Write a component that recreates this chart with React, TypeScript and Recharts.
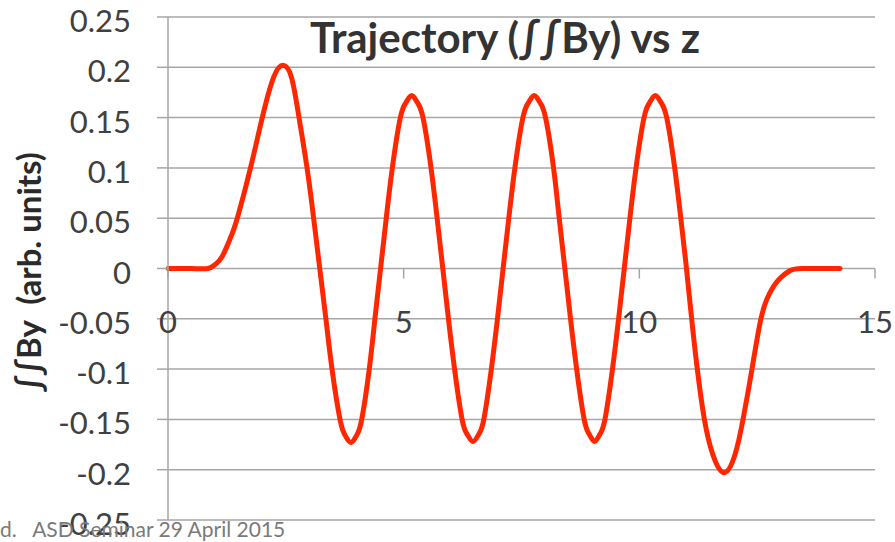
import { LineChart, Line, XAxis, YAxis, CartesianGrid, ReferenceLine } from 'recharts'

// z positions and integrated field values
const zPos = [
    0, 0.5, 0.85, 1.0, 1.15, 1.33, 1.47, 1.75, 2.0, 2.24, 2.44, 2.62, 2.78, 2.95, 3.09, 3.22,
    3.35, 3.48, 3.65, 3.76, 3.88, 4.0, 4.11, 4.27, 4.39, 4.51,
    4.63, 4.76, 4.93, 5.05, 5.17, 5.29, 5.41, 5.58, 5.71, 5.83,
    5.95, 6.08, 6.24, 6.35, 6.47, 6.59, 6.7, 6.86, 6.99, 7.11,
    7.23, 7.36, 7.53, 7.65, 7.77, 7.89, 8.01, 8.18, 8.3, 8.42,
    8.54, 8.67, 8.83, 8.94, 9.05, 9.16, 9.27, 9.43, 9.56, 9.68,
    9.8, 9.93, 10.1, 10.22, 10.34, 10.46, 10.58, 10.75, 10.88, 11.0,
    11.11, 11.23, 11.38, 11.56, 11.8, 12.03, 12.2, 12.39, 12.58, 12.76, 12.98, 13.2, 13.45, 14.26,
]
const intBy = [
    0, 0, 0, 0.004, 0.012, 0.031, 0.05, 0.1, 0.15, 0.19, 0.202, 0.19, 0.15, 0.1, 0.05, 0,
    -0.05, -0.1, -0.15, -0.166, -0.173, -0.166, -0.15, -0.1, -0.05, 0,
    0.05, 0.1, 0.15, 0.165, 0.172, 0.165, 0.15, 0.1, 0.05, 0,
    -0.05, -0.1, -0.15, -0.165, -0.172, -0.165, -0.15, -0.1, -0.05, 0,
    0.05, 0.1, 0.15, 0.165, 0.172, 0.165, 0.15, 0.1, 0.05, 0,
    -0.05, -0.1, -0.15, -0.165, -0.172, -0.165, -0.15, -0.1, -0.05, 0,
    0.05, 0.1, 0.15, 0.165, 0.172, 0.165, 0.15, 0.1, 0.05, 0,
    -0.05, -0.1, -0.15, -0.185, -0.203, -0.185, -0.15, -0.1, -0.05, -0.025, -0.01, -0.002, 0, 0,
]

const yTicks = [0.25, 0.2, 0.15, 0.1, 0.05, 0, -0.05, -0.1, -0.15, -0.2, -0.25]
const xTicks = [0, 5, 10, 15]

const title = 'Trajectory (∫∫By) vs z'
const yLabel = '∫∫By  (arb. units)'
const footer = 'd.   ASD Seminar 29 April 2015'

const data = zPos.map((z, i) => ({ z, by: intBy[i] }))

const gridColor = '#a6a6a6'
const textColor = '#404040'
const font = 'Lato, "Open Sans", sans-serif'

function YTick({ x, y, payload }: any) {
    return (
        <text x={x} y={y} dy={15} textAnchor="end" fill={textColor} fontSize={31} fontFamily={font}>
            {String(payload.value)}
        </text>
    )
}

export default function App() {
    return (
        <div style={{ position: 'absolute', left: 0, top: 0, width: 895, height: 542, background: '#fff', overflow: 'hidden' }}>
            <LineChart width={895} height={542} data={data} margin={{ top: 17, right: 20, bottom: 22, left: 0 }}>
                <CartesianGrid vertical={false} stroke={gridColor} strokeWidth={1.5} />
                <XAxis dataKey="z" type="number" domain={[0, 15]} ticks={xTicks} hide />
                <YAxis
                    type="number"
                    domain={[-0.25, 0.25]}
                    ticks={yTicks}
                    interval={0}
                    width={168}
                    tickSize={11}
                    tickMargin={26}
                    axisLine={{ stroke: gridColor, strokeWidth: 1.5 }}
                    tickLine={{ stroke: gridColor, strokeWidth: 1.5 }}
                    tick={<YTick />}
                />

                {/* x axis crosses at zero: tick marks and labels */}
                {xTicks.map(t => (
                    <ReferenceLine
                        key={t}
                        segment={[{ x: t, y: 0 }, { x: t, y: -0.01 }]}
                        stroke={gridColor}
                        strokeWidth={1.5}
                        label={{ value: String(t), position: 'bottom', offset: 32, fill: textColor, fontSize: 31, fontFamily: font }}
                    />
                ))}

                <Line
                    type="natural"
                    dataKey="by"
                    stroke="#ff2600"
                    strokeWidth={5}
                    strokeLinecap="round"
                    dot={false}
                    isAnimationActive={false}
                />
            </LineChart>

            <div style={{ position: 'absolute', left: 0, width: 1010, top: 10, textAlign: 'center', fontFamily: font, fontWeight: 700, fontSize: 42, lineHeight: '54px', color: '#333' }}>
                {title}
            </div>
            <div style={{ position: 'absolute', left: 28, top: 272, transform: 'translate(-50%, -50%) rotate(-90deg)', whiteSpace: 'pre', fontFamily: font, fontWeight: 700, fontSize: 33, color: '#2a2a2a' }}>
                {yLabel}
            </div>
            <div style={{ position: 'absolute', left: 0, top: 516, whiteSpace: 'pre', fontFamily: font, fontSize: 21, lineHeight: '26px', color: '#7a7a7a' }}>
                {footer}
            </div>
        </div>
    )
}
